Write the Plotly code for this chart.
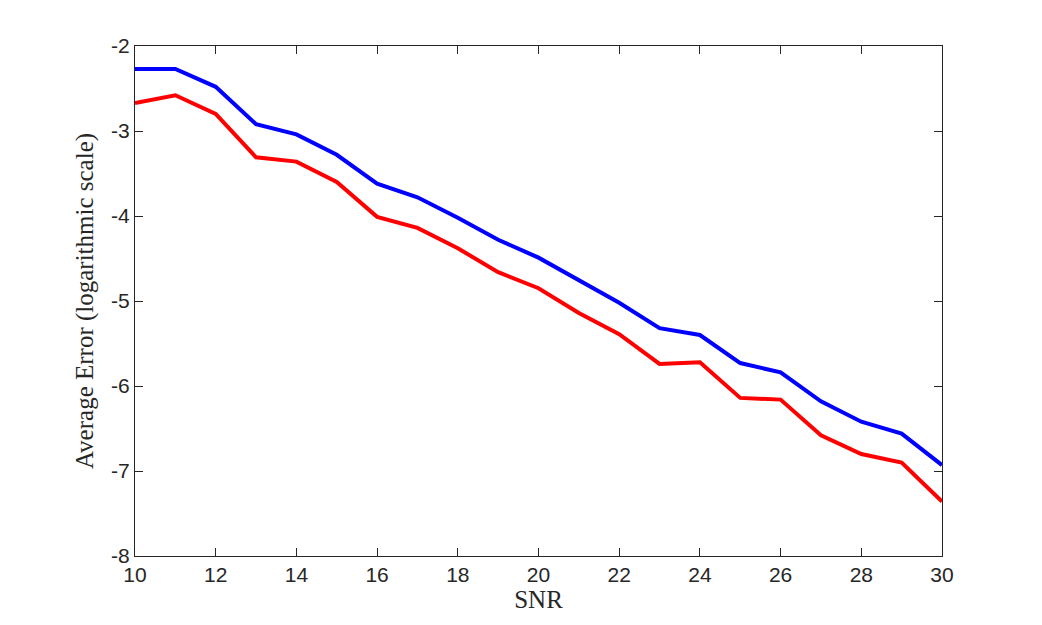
import plotly.graph_objects as go

snr = [10, 11, 12, 13, 14, 15, 16, 17, 18, 19, 20, 21, 22, 23, 24, 25, 26, 27, 28, 29, 30]
err_blue = [-2.27, -2.27, -2.48, -2.92, -3.04, -3.28, -3.62, -3.78, -4.02, -4.28, -4.49,
            -4.76, -5.02, -5.32, -5.40, -5.73, -5.84, -6.18, -6.42, -6.56, -6.93]
err_red = [-2.67, -2.58, -2.80, -3.31, -3.36, -3.60, -4.01, -4.14, -4.38, -4.66, -4.85,
           -5.14, -5.39, -5.74, -5.72, -6.14, -6.16, -6.58, -6.80, -6.90, -7.36]

x_ticks = [10, 12, 14, 16, 18, 20, 22, 24, 26, 28, 30]
x_ticklabels = ["10", "12", "14", "16", "18", "20", "22", "24", "26", "28", "30"]
y_ticks = [-8, -7, -6, -5, -4, -3, -2]
y_ticklabels = ["-8", "-7", "-6", "-5", "-4", "-3", "-2"]

AX = "#262626"
TICKFONT = dict(family="Liberation Sans", size=21, color=AX)
TITLEFONT = dict(family="Liberation Serif", size=25, color=AX)

fig = go.Figure()
fig.add_trace(go.Scatter(x=snr, y=err_blue, mode="lines",
                         line=dict(color="#0000ff", width=4), showlegend=False))
fig.add_trace(go.Scatter(x=snr, y=err_red, mode="lines",
                         line=dict(color="#ff0000", width=4), showlegend=False))

# page body has an 8px margin: compensate so the axes land where the reference has them
fig.update_layout(
    width=1042, height=625,
    margin=dict(l=127, r=108, t=38, b=77),
    paper_bgcolor="white", plot_bgcolor="white",
    xaxis=dict(range=[10, 30], tickvals=x_ticks, ticktext=x_ticklabels,
               ticks="inside", ticklen=8, tickwidth=1, tickcolor=AX,
               showline=True, linecolor=AX, linewidth=1, mirror="ticks",
               showgrid=False, zeroline=False, tickfont=TICKFONT,
               title=dict(text="SNR", font=TITLEFONT, standoff=3)),
    yaxis=dict(range=[-8, -2], tickvals=y_ticks, ticktext=y_ticklabels,
               ticks="inside", ticklen=8, tickwidth=1, tickcolor=AX,
               showline=True, linecolor=AX, linewidth=1, mirror="ticks",
               showgrid=False, zeroline=False, tickfont=TICKFONT,
               title=dict(text="Average Error (logarithmic scale)", font=TITLEFONT, standoff=10)),
)

fig.write_html("out.html")
